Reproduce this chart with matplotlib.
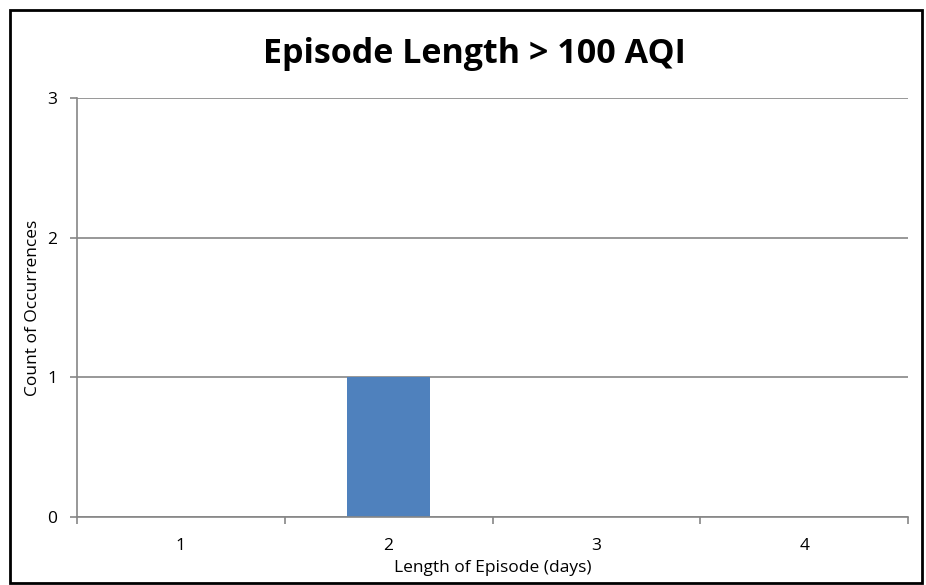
import matplotlib
matplotlib.use("Agg")
import matplotlib.pyplot as plt
from matplotlib.patches import Rectangle
import numpy as np

categories = ["1", "2", "3", "4"]
counts = [0, 1, 0, 0]
y_ticks = [0, 1, 2, 3]

W, H = 926, 585
fig = plt.figure(figsize=(W / 100, H / 100), dpi=100)
plt.rcParams['font.family'] = ['Open Sans', 'DejaVu Sans']

left, right, top, bottom = 77, 908, 98, 517
ax = fig.add_axes([left / W, 1 - bottom / H, (right - left) / W, (bottom - top) / H])

x = np.arange(len(categories))
ax.bar(x, counts, width=0.4, color="#4F81BD", zorder=3)
ax.set_xlim(-0.5, len(categories) - 0.5)
ax.set_ylim(0, 3)
ax.set_yticks(y_ticks)
ax.set_yticklabels([str(v) for v in y_ticks], fontsize=12.5)
ax.set_xticks(x)
ax.set_xticklabels(categories, fontsize=12.5)
ax.set_xticks(np.arange(len(categories) + 1) - 0.5, minor=True)
ax.tick_params(axis='x', which='major', length=0, pad=15)
ax.tick_params(axis='x', which='minor', length=5, color="#868686", width=1.2)
ax.tick_params(axis='y', length=5, color="#868686", width=1.2, pad=9)
ax.grid(axis='y', color="#868686", linewidth=1.2, zorder=0)
for s in ['top', 'right']:
    ax.spines[s].set_visible(False)
for s in ['left', 'bottom']:
    ax.spines[s].set_color("#868686")
    ax.spines[s].set_linewidth(1.2)
ax.spines['bottom'].set_zorder(4)

ax.set_xlabel("Length of Episode (days)", fontsize=12.5)
ax.xaxis.label.set_verticalalignment('center')
ax.xaxis.set_label_coords(493 / W, 1 - 568 / H, transform=fig.transFigure)
ax.set_ylabel("Count of Occurrences", fontsize=12.5)
ax.yaxis.label.set_verticalalignment('center')
ax.yaxis.set_label_coords(33 / W, 1 - 308 / H, transform=fig.transFigure)

fig.text(474 / W, 1 - 63 / H, "Episode Length > 100 AQI", fontsize=24.5,
         fontweight='bold', ha='center', va='baseline')

fig.patches.append(Rectangle((10 / W, 1 - 583 / H), (922 - 10) / W, (583 - 10) / H,
                             transform=fig.transFigure, fill=False,
                             edgecolor='black', linewidth=2))
fig.savefig("out.png", dpi=100)
